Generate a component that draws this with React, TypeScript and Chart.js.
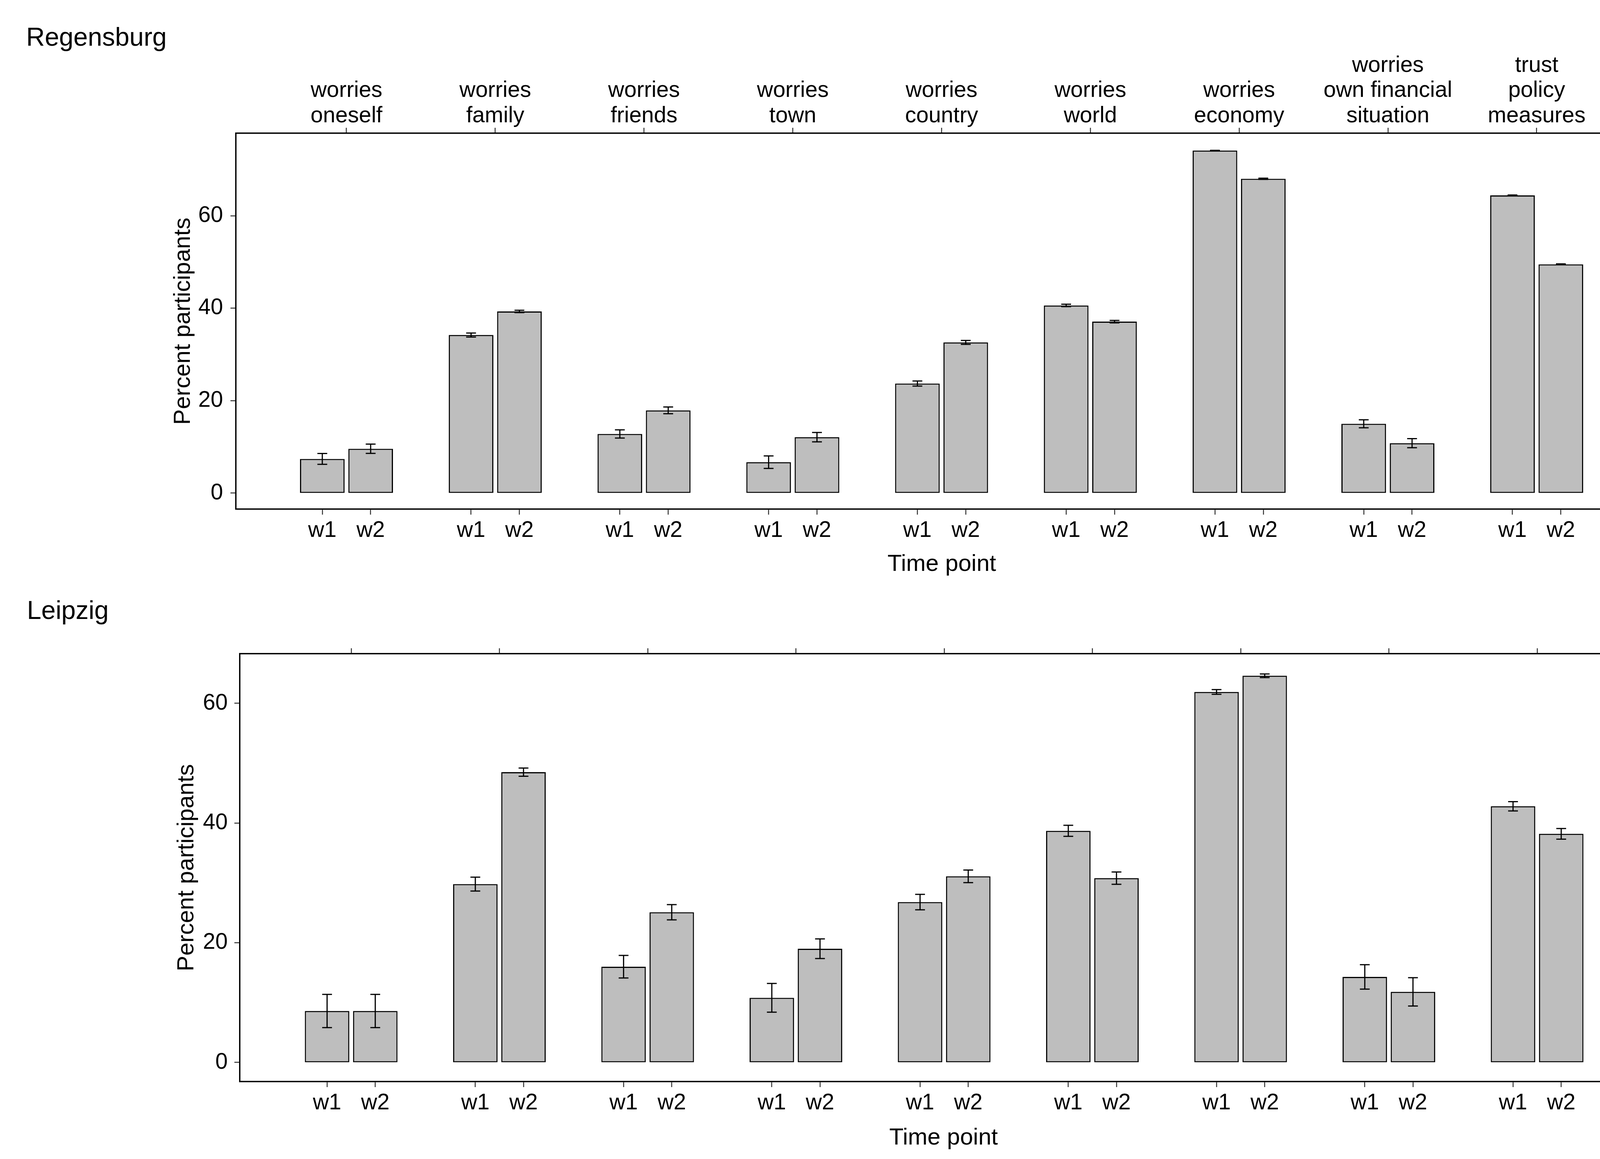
import React, { useEffect, useRef } from 'react';
import { Chart, registerables } from 'chart.js';

Chart.register(...registerables);

// ---------------- data ----------------
const categories: string[][] = [
  ['worries', 'oneself'],
  ['worries', 'family'],
  ['worries', 'friends'],
  ['worries', 'town'],
  ['worries', 'country'],
  ['worries', 'world'],
  ['worries', 'economy'],
  ['worries', 'own financial', 'situation'],
  ['trust', 'policy', 'measures'],
];
const timeLabels = ['w1', 'w2'];
const yTickValues = [0, 20, 40, 60];

const regensburgW1 = [7.4, 34.2, 12.8, 6.7, 23.7, 40.6, 74.1, 15.0, 64.4];
const regensburgW2 = [9.6, 39.3, 17.9, 12.1, 32.6, 37.1, 68.0, 10.8, 49.5];
const regensburgErrW1 = [1.17, 0.44, 0.88, 1.35, 0.55, 0.26, 0.05, 0.86, 0.1];
const regensburgErrW2 = [1.01, 0.26, 0.73, 1.01, 0.42, 0.26, 0.13, 0.98, 0.1];

const leipzigW1 = [8.6, 29.8, 16.0, 10.8, 26.8, 38.7, 61.9, 14.3, 42.8];
const leipzigW2 = [8.6, 48.5, 25.1, 19.0, 31.1, 30.8, 64.6, 11.8, 38.2];
const leipzigErrW1 = [2.77, 1.16, 1.89, 2.4, 1.29, 0.92, 0.39, 2.04, 0.78];
const leipzigErrW2 = [2.77, 0.68, 1.27, 1.64, 1.05, 1.03, 0.3, 2.37, 0.89];

// ---------------- styling constants ----------------
const FONT = "'Liberation Sans', Arial, Helvetica, sans-serif";
const W = 4285;
const DODGE = 0.1625; // half distance between w1 and w2 (in category units)
const BAR_FRACTION = 0.3 / 0.325;
const CAP_HALF = 0.033; // error bar cap half width (category units)

const errorBarPlugin = {
  id: 'errorBars',
  afterDatasetsDraw(chart: any, _args: any, opts: any) {
    const errs: number[] = opts.errors || [];
    const ds = chart.data.datasets[0];
    const xs = chart.scales.x;
    const ys = chart.scales.y;
    const ctx = chart.ctx;
    ctx.save();
    ctx.strokeStyle = '#000';
    ctx.lineWidth = 3;
    ds.data.forEach((pt: any, i: number) => {
      const e = errs[i] || 0;
      const x = xs.getPixelForValue(pt.x);
      const half = xs.getPixelForValue(pt.x + CAP_HALF) - x;
      const yt = ys.getPixelForValue(pt.y + e);
      const yb = ys.getPixelForValue(pt.y - e);
      ctx.beginPath();
      ctx.moveTo(x, yt);
      ctx.lineTo(x, yb);
      ctx.moveTo(x - half, yt);
      ctx.lineTo(x + half, yt);
      ctx.moveTo(x - half, yb);
      ctx.lineTo(x + half, yb);
      ctx.stroke();
    });
    ctx.restore();
  },
};

interface Layout {
  top: number;
  height: number;
  padLeft: number;
  padRight: number;
  titlePadTop: number;
  topAxisH: number;
  bottomAxisH: number;
  yAxisW: number;
  yTitlePad: number;
  yTickPad: number;
  xTickPad: number;
  xTitlePadBottom: number;
  yMin: number;
  yMax: number;
  xMin: number;
  xMax: number;
  showCategories: boolean;
}

interface CityProps {
  title: string;
  w1: number[];
  w2: number[];
  e1: number[];
  e2: number[];
  layout: Layout;
}

function CityChart({ title, w1, w2, e1, e2, layout }: CityProps) {
  const ref = useRef<HTMLCanvasElement>(null);
  useEffect(() => {
    const points: { x: number; y: number }[] = [];
    const errors: number[] = [];
    categories.forEach((_, i) => {
      points.push({ x: i + 1 - DODGE, y: w1[i] });
      errors.push(e1[i]);
      points.push({ x: i + 1 + DODGE, y: w2[i] });
      errors.push(e2[i]);
    });
    const barPositions = points.map((p) => p.x);
    const gridCommon = {
      display: true,
      offset: false,
      drawOnChartArea: false,
      drawTicks: true,
      tickLength: 14,
      tickColor: '#333333',
      tickWidth: 2.5,
    };
    const borderCommon = { display: true, color: '#000000', width: 3.5 };
    const tickFont = { family: FONT, size: 57 };

    const chart = new Chart(ref.current as HTMLCanvasElement, {
      type: 'bar',
      data: {
        datasets: [
          {
            data: points as any,
            backgroundColor: '#BEBEBE',
            borderColor: '#000000',
            borderWidth: 3,
            borderSkipped: false,
            categoryPercentage: 1,
            barPercentage: BAR_FRACTION,
            xAxisID: 'x',
            yAxisID: 'y',
          } as any,
        ],
      },
      plugins: [errorBarPlugin as any],
      options: {
        animation: false,
        responsive: false,
        devicePixelRatio: 1,
        events: [],
        layout: {
          padding: { left: layout.padLeft, right: layout.padRight, top: 0, bottom: 0 },
        },
        plugins: {
          legend: { display: false },
          tooltip: { enabled: false },
          title: {
            display: true,
            text: title,
            align: 'start',
            color: '#000000',
            font: { family: FONT, size: 66, weight: 'normal' as any },
            padding: { top: layout.titlePadTop, bottom: 0 },
          },
          errorBars: { errors } as any,
        } as any,
        scales: {
          x: {
            type: 'linear',
            position: 'bottom',
            offset: false,
            min: layout.xMin,
            max: layout.xMax,
            afterBuildTicks: (s: any) => {
              s.ticks = barPositions.map((v) => ({ value: v }));
            },
            afterFit: (s: any) => {
              s.height = layout.bottomAxisH;
            },
            ticks: {
              autoSkip: false,
              maxRotation: 0,
              minRotation: 0,
              padding: layout.xTickPad,
              color: '#000000',
              font: tickFont,
              callback: (_v: any, i: number) => timeLabels[i % 2],
            },
            grid: gridCommon,
            border: borderCommon,
            title: {
              display: true,
              text: 'Time point',
              color: '#000000',
              font: { family: FONT, size: 60 },
              padding: { top: 0, bottom: layout.xTitlePadBottom },
            },
          } as any,
          x2: {
            type: 'linear',
            position: 'top',
            offset: false,
            min: layout.xMin,
            max: layout.xMax,
            afterBuildTicks: (s: any) => {
              s.ticks = categories.map((_, i) => ({ value: i + 1 }));
            },
            afterFit: (s: any) => {
              s.height = layout.topAxisH;
            },
            ticks: {
              autoSkip: false,
              maxRotation: 0,
              minRotation: 0,
              padding: -2,
              color: '#000000',
              font: { family: FONT, size: 57, lineHeight: 1.13 },
              callback: (_v: any, i: number) => (layout.showCategories ? categories[i] : ''),
            },
            grid: gridCommon,
            border: borderCommon,
          } as any,
          y: {
            type: 'linear',
            position: 'left',
            min: layout.yMin,
            max: layout.yMax,
            afterBuildTicks: (s: any) => {
              s.ticks = yTickValues.map((v) => ({ value: v }));
            },
            afterFit: (s: any) => {
              s.width = layout.yAxisW;
            },
            ticks: {
              padding: layout.yTickPad,
              color: '#000000',
              font: tickFont,
              callback: (v: any) => String(v),
            },
            grid: gridCommon,
            border: borderCommon,
            title: {
              display: true,
              text: 'Percent participants',
              color: '#000000',
              font: { family: FONT, size: 60 },
              padding: { top: layout.yTitlePad, bottom: 0 },
            },
          } as any,
        },
      },
    });
    return () => chart.destroy();
  }, []);
  return (
    <canvas
      ref={ref}
      width={W}
      height={layout.height}
      style={{
        position: 'absolute',
        left: 0,
        top: layout.top,
        width: W + 'px',
        height: layout.height + 'px',
        display: 'block',
      }}
    />
  );
}

const regensburgLayout: Layout = {
  top: 0,
  height: 1480,
  padLeft: 67,
  padRight: 67,
  titlePadTop: 59.4,
  topAxisH: 202.4,
  bottomAxisH: 177,
  yAxisW: 537,
  yTitlePad: 366,
  yTickPad: 19,
  xTickPad: 7,
  xTitlePadBottom: 0,
  yMin: -3.47,
  yMax: 77.85,
  xMin: 0.257,
  xMax: 9.746,
  showCategories: true,
};

const leipzigLayout: Layout = {
  top: 1480,
  height: 1486,
  padLeft: 69,
  padRight: 68,
  titlePadTop: 46.4,
  topAxisH: 67.4,
  bottomAxisH: 198,
  yAxisW: 545,
  yTitlePad: 373,
  yTickPad: 17,
  xTickPad: 7.3,
  xTitlePadBottom: 18,
  yMin: -3.2,
  yMax: 68.28,
  xMin: 0.249,
  xMax: 9.743,
  showCategories: false,
};

export default function App() {
  useEffect(() => {
    document.body.style.overflow = 'hidden';
  }, []);
  return (
    <div
      style={{
        position: 'absolute',
        left: 0,
        top: 0,
        width: W + 'px',
        height: '2966px',
        background: '#ffffff',
        overflow: 'hidden',
      }}
    >
      <CityChart
        title="Regensburg"
        w1={regensburgW1}
        w2={regensburgW2}
        e1={regensburgErrW1}
        e2={regensburgErrW2}
        layout={regensburgLayout}
      />
      <CityChart
        title="Leipzig"
        w1={leipzigW1}
        w2={leipzigW2}
        e1={leipzigErrW1}
        e2={leipzigErrW2}
        layout={leipzigLayout}
      />
    </div>
  );
}
